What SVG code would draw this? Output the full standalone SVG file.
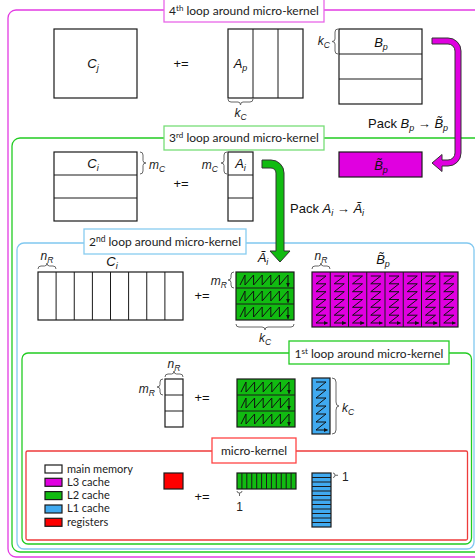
<svg xmlns="http://www.w3.org/2000/svg" xmlns:xlink="http://www.w3.org/1999/xlink" width="475" height="559" viewBox="0 0 475 559">
<style>
.frame{fill:none;stroke-width:1.3}
.lbl{fill:#fff;stroke-width:1.3}
.title{font-family:Lato,"Open Sans","Liberation Sans",sans-serif;font-size:12px;fill:#222}
.cell{fill:#fff;stroke:#1a1a1a;stroke-width:1.2}
.l3{fill:#e000e0;stroke:#1a1a1a;stroke-width:1.2}
.l2{fill:#11bb11;stroke:#1a1a1a;stroke-width:1.2}
.l1{fill:#40aaf0;stroke:#1a1a1a;stroke-width:1.2}
.reg{fill:#ff0000;stroke:#1a1a1a;stroke-width:1.2}
.ln{fill:none;stroke:#1a1a1a;stroke-width:1}
.m{font-family:"Liberation Sans",Arial,sans-serif;font-style:italic;font-size:13px;fill:#111}
.d{font-family:"Liberation Sans",Arial,sans-serif;font-style:italic;font-size:12px;fill:#222}
.op{font-family:"Liberation Sans",Arial,sans-serif;font-size:13px;fill:#111}
.one{font-family:"Liberation Sans",Arial,sans-serif;font-size:12px;fill:#222}
.brace{fill:none;stroke:#666;stroke-width:1}
.zz{fill:none;stroke:#111;stroke-width:1;marker-end:url(#ah)}
.leg{font-family:Lato,"Open Sans","Liberation Sans",sans-serif;font-size:11px;fill:#222}
</style>
<defs>
<marker id="ah" viewBox="0 0 6 6" refX="5" refY="3" markerWidth="4.5" markerHeight="4.5" markerUnits="userSpaceOnUse" orient="auto"><path d="M0,0.3 L6,3 L0,5.7z" fill="#111"/></marker>
<g id="packA">
<rect class="l2" x="0" y="0" width="58" height="48"/>
<path class="ln" d="M0,16H58M0,32H58"/>
<path class="zz" d="M4,13L9,3V13L17.6,3V13L26.2,3V13L34.8,3V13L43.4,3V13L52,3V14.5"/>
<path class="zz" d="M4,29L9,19V29L17.6,19V29L26.2,19V29L34.8,19V29L43.4,19V29L52,19V30.5"/>
<path class="zz" d="M4,45L9,35V45L17.6,35V45L26.2,35V45L34.8,35V45L43.4,35V45L52,35V46.5"/>
</g>
<path id="zzB" class="zz" d="M4,4H14L4,11.8H14L4,19.7H14L4,27.5H14L4,35.3H14L4,43.2H14L4,51H15.5"/>
</defs>

<g id="frames">
<rect class="frame" x="8" y="10" width="500" height="547" rx="8" stroke="#e23be2"/>
<rect class="frame" x="12" y="138" width="495" height="414" rx="8" stroke="#22cc22"/>
<rect class="frame" x="17" y="243" width="457" height="306" rx="7" stroke="#80c8f0"/>
<rect class="frame" x="22" y="353" width="449.5" height="191" rx="6" stroke="#2c2"/>
<rect class="frame" x="26" y="451" width="441.5" height="89" rx="1.5" stroke="#ee3b3b"/>
</g>

<g id="label-loop4">
<rect class="lbl" x="164" y="-1" width="160" height="23" stroke="#e866e8"/>
<text class="title" x="244" y="15" text-anchor="middle">4<tspan font-size="8" dy="-4">th</tspan><tspan dy="4"> loop around micro-kernel</tspan></text>
</g>
<g id="label-loop3">
<rect class="lbl" x="164" y="126" width="160" height="24" stroke="#77dd77"/>
<text class="title" x="244" y="142" text-anchor="middle">3<tspan font-size="8" dy="-4">rd</tspan><tspan dy="4"> loop around micro-kernel</tspan></text>
</g>
<g id="label-loop2">
<rect class="lbl" x="84" y="229" width="162" height="25" stroke="#88ccf0"/>
<text class="title" x="165" y="246" text-anchor="middle" font-size="13">2<tspan font-size="8.5" dy="-4">nd</tspan><tspan dy="4"> loop around micro-kernel</tspan></text>
</g>
<g id="label-loop1">
<rect class="lbl" x="289" y="341" width="160" height="23" stroke="#22cc22"/>
<text class="title" x="369" y="357.5" text-anchor="middle">1<tspan font-size="8" dy="-4">st</tspan><tspan dy="4"> loop around micro-kernel</tspan></text>
</g>
<g id="label-micro">
<rect class="lbl" x="212" y="438" width="84" height="25" stroke="#ff4444"/>
<text class="title" x="254" y="455" text-anchor="middle">micro-kernel</text>
</g>

<!-- 4th loop -->
<g id="Cj">
<rect class="cell" x="54" y="29" width="83" height="69"/>
<text class="m" x="93" y="68" text-anchor="middle">C<tspan font-size="9" dy="3">j</tspan></text>
</g>
<text class="op" x="181" y="68" text-anchor="middle">+=</text>
<g id="Ap">
<rect class="cell" x="228" y="29" width="75" height="69"/>
<path class="ln" d="M253,29V98M278,29V98"/>
<text class="m" x="240.5" y="68" text-anchor="middle">A<tspan font-size="9" dy="3">p</tspan></text>
<path class="brace" d="M228,99Q228,102 231,102H238Q240.5,102 240.5,105Q240.5,102 243,102H250Q253,102 253,99"/>
<text class="d" x="240.5" y="117" text-anchor="middle">k<tspan font-size="8.5" dy="3">C</tspan></text>
</g>
<g id="Bp">
<rect class="cell" x="339" y="29" width="83" height="75"/>
<path class="ln" d="M339,54H422M339,79H422"/>
<text class="m" x="381" y="47" text-anchor="middle">B<tspan font-size="9" dy="3">p</tspan></text>
<path class="brace" d="M338,29Q335,29 335,32V39Q335,41.5 332,41.5Q335,41.5 335,44V51Q335,54 338,54"/>
<text class="d" x="330" y="45" text-anchor="end">k<tspan font-size="8.5" dy="3">C</tspan></text>
</g>

<!-- 3rd loop -->
<g id="Ci">
<rect class="cell" x="54" y="152" width="83" height="69"/>
<path class="ln" d="M54,175H137M54,198H137"/>
<text class="m" x="93" y="168" text-anchor="middle">C<tspan font-size="9" dy="3">i</tspan></text>
<path class="brace" d="M140,152Q143,152 143,155V160.5Q143,163 146,163Q143,163 143,165.5V171Q143,174 140,174"/>
<text class="d" x="149" y="169">m<tspan font-size="8.5" dy="3">C</tspan></text>
</g>
<text class="op" x="181" y="188" text-anchor="middle">+=</text>
<g id="Ai">
<rect class="cell" x="228" y="152" width="25" height="69"/>
<path class="ln" d="M228,175H253M228,198H253"/>
<text class="m" x="240.5" y="168" text-anchor="middle">A<tspan font-size="9" dy="3">i</tspan></text>
<path class="brace" d="M227,152Q224,152 224,155V160.5Q224,163 221,163Q224,163 224,165.5V171Q224,174 227,174"/>
<text class="d" x="218" y="169" text-anchor="end">m<tspan font-size="8.5" dy="3">C</tspan></text>
</g>
<g id="Btilde-packed">
<rect class="l3" x="339" y="152" width="83" height="25"/>
<text class="m" x="381" y="170" text-anchor="middle">B&#x303;<tspan font-size="9" dy="3">p</tspan></text>
</g>

<!-- 2nd loop -->
<g id="Ci-row">
<rect class="cell" x="38" y="272" width="145" height="48"/>
<path class="ln" d="M56.1,272V320M74.25,272V320M92.4,272V320M110.5,272V320M128.6,272V320M146.75,272V320M164.9,272V320"/>
<path class="brace" d="M38,269Q38,266 41,266H44.5Q47,266 47,263Q47,266 49.5,266H53Q56,266 56,269"/>
<text class="d" x="47" y="260" text-anchor="middle">n<tspan font-size="8.5" dy="3">R</tspan></text>
<text class="m" x="112" y="266" text-anchor="middle">C<tspan font-size="9" dy="3">i</tspan></text>
</g>
<text class="op" x="202" y="300" text-anchor="middle">+=</text>
<g id="Atilde">
<use xlink:href="#packA" x="236" y="272"/>
<text class="m" x="263" y="262" text-anchor="middle">&#xC3;<tspan font-size="9" dy="3">i</tspan></text>
<path class="brace" d="M234,272Q231,272 231,275V277.5Q231,280 228,280Q231,280 231,282.5V285Q231,288 234,288"/>
<text class="d" x="227" y="285" text-anchor="end">m<tspan font-size="8.5" dy="3">R</tspan></text>
<path class="brace" d="M236,324Q236,327 239,327H262Q265,327 265,330Q265,327 268,327H291Q294,327 294,324"/>
<text class="d" x="265" y="342" text-anchor="middle">k<tspan font-size="8.5" dy="3">C</tspan></text>
</g>
<g id="Btilde">
<rect class="l3" x="312" y="272" width="146" height="55"/>
<path class="ln" d="M330.25,272V327M348.5,272V327M366.75,272V327M385,272V327M403.25,272V327M421.5,272V327M439.75,272V327"/>
<use xlink:href="#zzB" x="312" y="272"/>
<use xlink:href="#zzB" x="330.25" y="272"/>
<use xlink:href="#zzB" x="348.5" y="272"/>
<use xlink:href="#zzB" x="366.75" y="272"/>
<use xlink:href="#zzB" x="385" y="272"/>
<use xlink:href="#zzB" x="403.25" y="272"/>
<use xlink:href="#zzB" x="421.5" y="272"/>
<use xlink:href="#zzB" x="439.75" y="272"/>
<path class="brace" d="M312,269Q312,266 315,266H318.5Q321,266 321,263Q321,266 323.5,266H327Q330,266 330,269"/>
<text class="d" x="321" y="260" text-anchor="middle">n<tspan font-size="8.5" dy="3">R</tspan></text>
<text class="m" x="383" y="264" text-anchor="middle">B&#x303;<tspan font-size="9" dy="3">p</tspan></text>
</g>

<!-- 1st loop -->
<g id="Cmicro">
<rect class="cell" x="165" y="379" width="18" height="48"/>
<path class="ln" d="M165,395H183M165,411H183"/>
<path class="brace" d="M165,377Q165,374 168,374H171.5Q174,374 174,371Q174,374 176.5,374H180Q183,374 183,377"/>
<text class="d" x="174" y="368" text-anchor="middle">n<tspan font-size="8.5" dy="3">R</tspan></text>
<path class="brace" d="M163,379Q160,379 160,382V384.5Q160,387 157,387Q160,387 160,389.5V392Q160,395 163,395"/>
<text class="d" x="155" y="393" text-anchor="end">m<tspan font-size="8.5" dy="3">R</tspan></text>
</g>
<text class="op" x="202" y="402" text-anchor="middle">+=</text>
<g id="Atilde-1">
<use xlink:href="#packA" x="237" y="379"/>
</g>
<g id="Bmicro">
<rect class="l1" x="312" y="378" width="18" height="56"/>
<path class="zz" d="M316,382H326L316,390H326L316,398H326L316,406H326L316,414H326L316,422H326L316,430H327.5"/>
<path class="brace" d="M332,378Q336,378 336,382V402Q336,406 339,406Q336,406 336,410V430Q336,434 332,434"/>
<text class="d" x="342" y="412">k<tspan font-size="8.5" dy="3">C</tspan></text>
</g>

<!-- micro-kernel -->
<g id="legend">
<rect class="cell" x="45" y="465" width="17" height="8"/>
<rect class="l3" x="45" y="478.3" width="17" height="8"/>
<rect class="l2" x="45" y="491.6" width="17" height="8"/>
<rect class="l1" x="45" y="505" width="17" height="8"/>
<rect class="reg" x="45" y="518.3" width="17" height="8"/>
<text class="leg" x="67" y="472.5">main memory</text>
<text class="leg" x="67" y="485.8">L3 cache</text>
<text class="leg" x="67" y="499.1">L2 cache</text>
<text class="leg" x="67" y="512.4">L1 cache</text>
<text class="leg" x="67" y="525.7">registers</text>
</g>
<g id="Creg">
<rect class="reg" x="164" y="473" width="19" height="16"/>
</g>
<text class="op" x="202" y="501" text-anchor="middle">+=</text>
<g id="Arow">
<rect class="l2" x="237" y="473" width="59" height="16"/>
<path class="ln" d="M241.9,473V489M246.8,473V489M251.75,473V489M256.7,473V489M261.6,473V489M266.5,473V489M271.4,473V489M276.3,473V489M281.25,473V489M286.2,473V489M291.1,473V489"/>
<path class="brace" d="M237,491Q237,493 239.5,493Q242,493 242,491M239.5,493V496"/>
<text class="one" x="239.5" y="511" text-anchor="middle">1</text>
</g>
<g id="Bcol">
<rect class="l1" x="312" y="473" width="19" height="54"/>
<path class="ln" d="M312,482H331M312,486.5H331M312,491H331M312,495.5H331M312,500H331M312,504.5H331M312,509H331M312,513.5H331M312,518H331M312,522.5H331"/>
<path class="ln" stroke-width="1.8" d="M312,477.5H331"/>
<path class="brace" d="M333,473Q335,473 335,475.25Q335,477.5 333,477.5M335,475.25H338"/>
<text class="one" x="342" y="481">1</text>
</g>

<g id="connectors">
<path d="M432,38H448A13,13 0 0 1 461,51V153A13,13 0 0 1 448,166H442V171.5L432,163L442,154.5V160H448A7,7 0 0 0 455,153V51A7,7 0 0 0 448,44H432Z" fill="#e000e0" stroke="#333" stroke-width="1"/>
<text class="op" x="368" y="128">Pack <tspan font-style="italic">B</tspan><tspan font-style="italic" font-size="9" dy="3">p</tspan><tspan dy="-3"> &#x2192; </tspan><tspan font-style="italic">B&#x303;</tspan><tspan font-style="italic" font-size="9" dy="3">p</tspan></text>
<path d="M262,160H271A13,13 0 0 1 284,173V251H290L280,262L270,251H276V173A5,5 0 0 0 271,168H262Z" fill="#11bb11" stroke="#333" stroke-width="1"/>
<text class="op" x="290" y="213">Pack <tspan font-style="italic">A</tspan><tspan font-style="italic" font-size="9" dy="3">i</tspan><tspan dy="-3"> &#x2192; </tspan><tspan font-style="italic">&#xC3;</tspan><tspan font-style="italic" font-size="9" dy="3">i</tspan></text>
</g>
</svg>
